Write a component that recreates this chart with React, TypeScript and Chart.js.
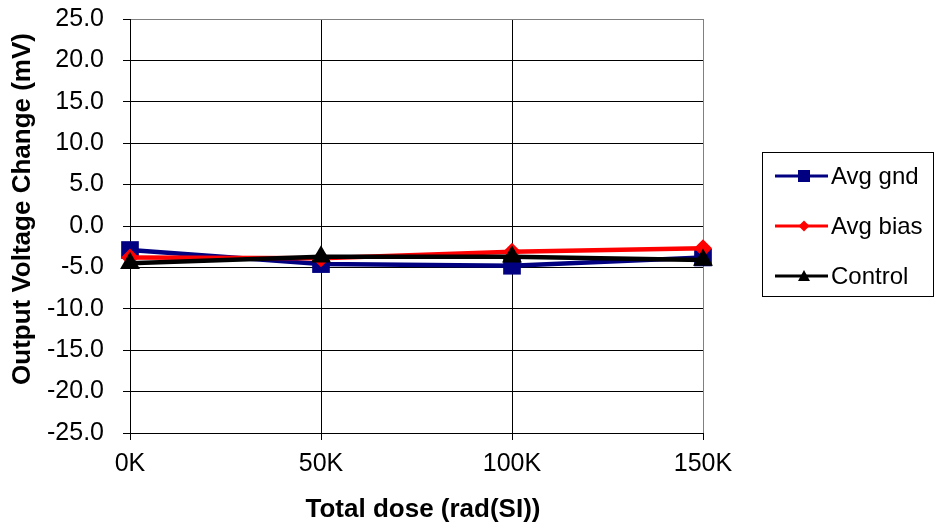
import React, { useEffect, useRef } from "react";
import { Chart, registerables } from "chart.js";

Chart.register(...registerables);

const doses = [0, 50, 100, 150];
const seriesNames = ["Avg gnd", "Avg bias", "Control"];
const avgGnd = [-2.9, -4.6, -4.8, -3.8];
const avgBias = [-3.8, -3.9, -3.1, -2.7];
const control = [-4.5, -3.7, -3.7, -4.1];
const yTicks = [25, 20, 15, 10, 5, 0, -5, -10, -15, -20, -25];
const xTitle = "Total dose (rad(SI))";
const yTitle = "Output Voltage Change (mV)";

const colors = ["#000080", "#ff0000", "#000000"];
const styles = ["rect", "rectRot", "triangle"];
const FONT = "'Liberation Sans', Arial, sans-serif";

function drawMarker(ctx: CanvasRenderingContext2D, style: string, x: number, y: number, r: number, color: string) {
  ctx.save();
  ctx.fillStyle = color;
  ctx.beginPath();
  if (style === "rect") {
    ctx.rect(x - r, y - r, 2 * r, 2 * r);
  } else if (style === "rectRot") {
    ctx.moveTo(x, y - r);
    ctx.lineTo(x + r, y);
    ctx.lineTo(x, y + r);
    ctx.lineTo(x - r, y);
    ctx.closePath();
  } else {
    ctx.moveTo(x, y - r);
    ctx.lineTo(x + r, y + r * 0.85);
    ctx.lineTo(x - r, y + r * 0.85);
    ctx.closePath();
  }
  ctx.fill();
  ctx.restore();
}

const decorPlugin = {
  id: "decor",
  afterDraw(chart: any) {
    const ctx = chart.ctx as CanvasRenderingContext2D;
    ctx.save();
    ctx.fillStyle = "#000";
    ctx.font = `bold 26px ${FONT}`;
    ctx.textAlign = "center";
    ctx.textBaseline = "middle";
    ctx.fillText(xTitle, 423, 510);
    ctx.save();
    ctx.translate(23, 209);
    ctx.rotate(-Math.PI / 2);
    ctx.fillText(yTitle, 0, 0);
    ctx.restore();
    ctx.strokeStyle = "#000";
    ctx.lineWidth = 1;
    ctx.strokeRect(762.5, 152.5, 171, 144);
    chart.data.datasets.forEach((ds: any, i: number) => {
      const y = 176 + i * 50;
      ctx.strokeStyle = ds.borderColor;
      ctx.lineWidth = 3;
      ctx.beginPath();
      ctx.moveTo(775, y);
      ctx.lineTo(828, y);
      ctx.stroke();
      drawMarker(ctx, styles[i], 804, y, i === 0 ? 6 : i === 1 ? 5.5 : 6, ds.borderColor);
      ctx.fillStyle = "#000";
      ctx.font = `24px ${FONT}`;
      ctx.textBaseline = "middle";
      ctx.textAlign = "left";
      ctx.fillText(ds.label, 831, y + 1);
    });
    ctx.restore();
  },
};

export default function App() {
  const ref = useRef<HTMLCanvasElement>(null);
  useEffect(() => {
    const seriesValues = [avgGnd, avgBias, control];
    const chart = new Chart(ref.current!, {
      type: "line",
      data: {
        datasets: seriesNames.map((name, i) => ({
          label: name,
          data: doses.map((d, j) => ({ x: d, y: seriesValues[i][j] })),
          borderColor: colors[i],
          backgroundColor: colors[i],
          borderWidth: 4.5,
          pointStyle: styles[i],
          pointRadius: i === 0 ? 12.5 : i === 1 ? 9 : 11.5,
          pointBorderWidth: 0,
          tension: 0,
          clip: false,
          order: 3 - i,
        })),
      },
      options: {
        animation: false,
        responsive: false,
        maintainAspectRatio: false,
        layout: { padding: { top: 19, right: 233, left: 0, bottom: 0 } },
        plugins: { legend: { display: false }, tooltip: { enabled: false } },
        scales: {
          x: {
            type: "linear",
            min: 0,
            max: 150,
            ticks: {
              stepSize: 50,
              color: "#000",
              font: { family: FONT, size: 25 },
              padding: 9,
              maxRotation: 0,
              callback: (v: any) => `${v}K`,
            },
            grid: {
              color: (c: any) => (c.index === 3 ? "#808080" : "#000"),
              lineWidth: 1,
              tickLength: 7,
              tickColor: "#000",
            },
            border: { color: "#000", width: 1 },
            afterFit: (s: any) => {
              s.height = 94;
            },
          },
          y: {
            min: -25,
            max: 25,
            afterBuildTicks: (s: any) => {
              s.ticks = yTicks.map((v) => ({ value: v }));
            },
            ticks: {
              color: "#000",
              font: { family: FONT, size: 25 },
              padding: 19,
              callback: (v: any) => Number(v).toFixed(1),
            },
            grid: {
              color: (c: any) => (c.tick && c.tick.value === 25 ? "#808080" : "#000"),
              lineWidth: 1,
              tickLength: 7,
              tickColor: "#000",
            },
            border: { color: "#000", width: 1 },
            afterFit: (s: any) => {
              s.width = 130;
              s.paddingTop = 0;
              s.paddingBottom = 0;
            },
          },
        },
      },
      plugins: [decorPlugin],
    });
    return () => chart.destroy();
  }, []);
  return (
    <div style={{ position: "absolute", left: 0, top: 0, width: 936, height: 527, background: "#fff" }}>
      <canvas ref={ref} width={936} height={527} style={{ width: 936, height: 527 }} />
    </div>
  );
}
